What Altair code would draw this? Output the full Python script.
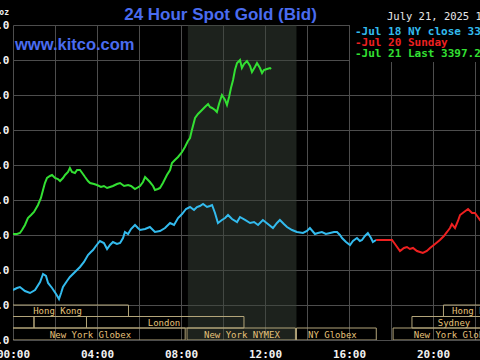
import altair as alt
import pandas as pd

# ---------------- data ----------------
# Jul 18 (previous NY session), hours since 00:00 and bid price
blue_hours = [0.00, 0.19, 0.33, 0.57, 0.81, 1.05, 1.29, 1.43, 1.57, 1.67, 1.86, 2.05, 2.19, 2.29,
              2.38, 2.57, 2.71, 2.95, 3.19, 3.38, 3.57, 3.71, 3.81, 3.95, 4.14, 4.33, 4.48, 4.62,
              4.76, 4.95, 5.10, 5.24, 5.33, 5.48, 5.62, 5.81, 5.95, 6.05, 6.29, 6.52, 6.76, 7.00,
              7.24, 7.48, 7.67, 7.86, 8.05, 8.24, 8.43, 8.62, 8.76, 8.90, 9.05, 9.24, 9.38, 9.48,
              9.62, 9.76, 9.95, 10.10, 10.24, 10.43, 10.67, 10.81, 11.05, 11.29, 11.48, 11.67,
              11.90, 12.14, 12.38, 12.57, 12.71, 12.90, 13.05, 13.29, 13.52, 13.81, 14.00, 14.14,
              14.38, 14.52, 14.71, 14.90, 15.10, 15.29, 15.43, 15.57, 15.67, 15.86, 16.05, 16.19,
              16.38, 16.52, 16.62, 16.76, 16.90, 17.05, 17.14, 17.29]
blue_prices = [3334.29, 3334.86, 3335.14, 3334.00, 3333.43, 3334.29, 3336.57, 3338.86, 3338.29,
               3336.29, 3334.86, 3333.14, 3331.71, 3333.43, 3335.14, 3336.86, 3338.00, 3339.43,
               3340.86, 3342.29, 3344.29, 3345.14, 3345.71, 3346.86, 3348.29, 3347.71, 3346.00,
               3347.14, 3348.00, 3347.43, 3347.71, 3349.14, 3350.86, 3350.29, 3351.71, 3352.86,
               3352.00, 3351.43, 3351.71, 3352.29, 3350.86, 3351.14, 3352.00, 3353.43, 3352.86,
               3354.86, 3356.00, 3357.43, 3358.00, 3357.14, 3358.00, 3358.29, 3358.86, 3358.00,
               3358.29, 3358.57, 3356.29, 3353.43, 3354.29, 3354.86, 3355.71, 3354.57, 3353.71,
               3355.14, 3354.29, 3353.43, 3353.71, 3352.86, 3354.29, 3353.14, 3352.00, 3353.43,
               3354.29, 3353.14, 3352.29, 3351.43, 3350.86, 3350.57, 3351.14, 3352.00, 3350.29,
               3350.57, 3350.86, 3350.29, 3350.57, 3350.86, 3350.86, 3350.00, 3349.14, 3348.00,
               3347.14, 3348.29, 3349.14, 3348.29, 3348.57, 3349.71, 3350.57, 3349.14, 3348.00,
               3348.57]

# Jul 20 (Sunday evening)
red_hours = [17.29, 18.05, 18.19, 18.43, 18.62, 18.76, 18.90, 19.05, 19.24, 19.38, 19.52, 19.71,
             19.86, 20.10, 20.33, 20.52, 20.67, 20.81, 20.90, 21.05, 21.19, 21.29, 21.48, 21.67,
             21.86, 22.00, 22.14, 22.24, 22.43]
red_prices = [3348.57, 3348.57, 3347.43, 3345.43, 3346.29, 3346.57, 3346.00, 3346.29, 3345.43,
              3345.14, 3344.86, 3345.43, 3346.29, 3347.43, 3348.57, 3349.71, 3350.86, 3352.00,
              3353.14, 3352.00, 3354.00, 3355.71, 3356.57, 3357.43, 3356.29, 3356.29, 3355.14,
              3354.29, 3353.14]

# Jul 21 (today)
green_hours = [0.00, 0.19, 0.33, 0.43, 0.57, 0.71, 0.86, 1.00, 1.19, 1.33, 1.43, 1.52, 1.62, 1.76,
               1.86, 2.00, 2.14, 2.24, 2.38, 2.48, 2.62, 2.71, 2.81, 2.95, 3.05, 3.19, 3.33, 3.43,
               3.57, 3.67, 3.86, 4.00, 4.19, 4.33, 4.48, 4.62, 4.76, 4.95, 5.10, 5.29, 5.48, 5.62,
               5.81, 5.90, 6.05, 6.19, 6.29, 6.43, 6.52, 6.67, 6.76, 6.90, 7.00, 7.14, 7.33, 7.48,
               7.57, 7.71, 7.86, 8.05, 8.19, 8.33, 8.43, 8.52, 8.67, 8.81, 9.00, 9.14, 9.29, 9.38,
               9.48, 9.62, 9.71, 9.81, 9.95, 10.10, 10.19, 10.29, 10.38, 10.48, 10.57, 10.67, 10.81,
               10.90, 11.00, 11.14, 11.29, 11.38, 11.52, 11.62, 11.76, 11.86, 11.95, 12.10, 12.24,
               12.29]
green_prices = [3350.29, 3350.29, 3350.57, 3351.43, 3352.86, 3354.86, 3355.71, 3356.57, 3358.57,
                3360.57, 3362.86, 3364.86, 3366.29, 3366.86, 3367.14, 3366.29, 3366.00, 3365.43,
                3366.29, 3367.14, 3368.00, 3369.14, 3368.00, 3367.71, 3368.57, 3368.57, 3367.43,
                3366.57, 3365.43, 3364.86, 3364.57, 3364.29, 3363.71, 3364.00, 3363.43, 3363.71,
                3364.00, 3364.57, 3364.86, 3364.00, 3364.29, 3364.00, 3363.14, 3363.43, 3364.00,
                3365.14, 3366.57, 3365.71, 3365.14, 3364.00, 3362.86, 3363.14, 3363.43, 3364.86,
                3367.14, 3368.57, 3370.57, 3371.43, 3372.29, 3373.71, 3375.14, 3376.86, 3377.71,
                3380.00, 3383.43, 3384.57, 3385.71, 3386.57, 3387.43, 3386.57, 3386.29, 3385.71,
                3385.14, 3387.43, 3390.00, 3388.57, 3387.14, 3389.43, 3392.00, 3394.29, 3397.14,
                3399.14, 3400.00, 3397.71, 3398.86, 3399.71, 3398.29, 3396.57, 3398.00, 3399.14,
                3397.71, 3396.29, 3397.14, 3397.43, 3397.71, 3397.43]

series_names = ["Jul 18", "Jul 20", "Jul 21"]
series_colors = ["#33bbee", "#ee2020", "#33e033"]

price_ticks = [3320, 3330, 3340, 3350, 3360, 3370, 3380, 3390, 3400, 3410]
hour_ticks = [0, 2, 4, 6, 8, 10, 12, 14, 16, 18, 20, 22]
visible_hours = [0, 22.24]

nymex_session = [8.33, 13.5]

market_names = ["Hong Kong", "", "", "London", "New York Globex", "New York NYMEX",
                "NY Globex", "Sydney", "Hong Kong", "New York Globex"]
market_start = [-2.0, -2.0, 1.0, 3.5, -2.0, 8.29, 13.5, 19.0, 20.5, 18.1]
market_end = [5.5, 1.0, 3.5, 11.0, 8.2, 13.45, 17.3, 26.0, 26.0, 26.0]
market_row = [0, 1, 1, 1, 2, 2, 2, 1, 0, 2]
market_label_hour = [2.12, 0, 0, 7.19, 3.69, 10.9, 15.21, 21.0, 22.07, 21.02]

legend_texts = ["-Jul 18 NY close 3350.40", "-Jul 20 Sunday", "-Jul 21 Last 3397.20"]
title_text = "24 Hour Spot Gold (Bid)"
site_text = "www.kitco.com"
date_text = "July 21, 2025 12:16"
unit_text = "USD/oz"

# ---------------- chart ----------------
MONO = "DejaVu Sans Mono"
SANS = "Liberation Sans"
W, H = 467, 315
GRID = "#4d4d4d"
BLUE_TXT = "#4a6cf0"
GOLD = "#e6c27a"
BOX = "#b3a57a"

rows = []
for name, hrs, prs in [(series_names[0], blue_hours, blue_prices),
                       (series_names[1], red_hours, red_prices),
                       (series_names[2], green_hours, green_prices)]:
    for h, p in zip(hrs, prs):
        rows.append({"series": name, "hour": h, "price": p})
lines_df = pd.DataFrame(rows)

xscale = alt.Scale(domain=visible_hours, nice=False, zero=False)
yscale = alt.Scale(domain=[price_ticks[0], price_ticks[-1]], nice=False, zero=False)

xaxis = alt.Axis(values=hour_ticks, grid=True, gridColor=GRID, gridWidth=1, domain=False,
                 ticks=False, tickSize=0, title=None,
                 labelExpr="datum.value % 4 == 0 ? [(datum.value < 10 ? '0' : '') + datum.value + ':00', (datum.value < 10 ? '0' : '') + datum.value + ':00'] : ''",
                 labelFont=MONO, labelFontSize=11, labelFontWeight="bold", labelColor="#f2f2f2",
                 labelPadding=8, labelFlush=False, labelOverlap=False, labelBound=False,
                 labelLineHeight=10)
yaxis = alt.Axis(values=price_ticks, format=".1f", grid=True, gridColor=GRID, gridWidth=1,
                 domain=False, ticks=False, tickSize=0, title=None,
                 labelFont=MONO, labelFontSize=11, labelFontWeight="bold", labelColor="#f2f2f2",
                 labelPadding=4, labelOverlap=False, labelBound=False, labelFlush=False)


def X(field):
    return alt.X(field, type="quantitative", scale=xscale, axis=xaxis)


one = alt.Data(values=[{"k": 1}])

band = alt.Chart(pd.DataFrame({"hour": [nymex_session[0]], "hour_end": [nymex_session[1]]})).mark_rect(
    fill="#3a443a", opacity=0.5
).encode(x=X("hour"), x2="hour_end", y=alt.value(0), y2=alt.value(H))

lines = alt.Chart(lines_df).mark_line(strokeWidth=2, clip=True).encode(
    x=X("hour"),
    y=alt.Y("price:Q", scale=yscale, axis=yaxis),
    color=alt.Color("series:N", scale=alt.Scale(domain=series_names, range=series_colors), legend=None),
    detail="series:N",
)

market_df = pd.DataFrame({"name": market_names, "hour": market_start, "hour_end": market_end,
                          "row": market_row, "label_hour": market_label_hour})
row_pix = [(280, 291.5), (291.5, 303), (303, 315)]
market_layers = []
for r, (top, bot) in enumerate(row_pix):
    market_layers.append(
        alt.Chart(market_df).transform_filter(f"datum.row == {r}").mark_rect(
            filled=False, stroke=BOX, strokeWidth=1, clip=True
        ).encode(x=X("hour"), x2="hour_end", y=alt.value(top), y2=alt.value(bot))
    )
    market_layers.append(
        alt.Chart(market_df).transform_filter(f"datum.row == {r} && datum.name != ''").mark_text(
            font=MONO, fontSize=9, color=GOLD, align="center", baseline="middle"
        ).encode(x=alt.X("label_hour", type="quantitative", scale=xscale, axis=xaxis),
                 y=alt.value((top + bot) / 2 + 0.5), text="name:N")
    )

legend_box = alt.Chart(one).mark_rect(fill="black").encode(
    x=alt.value(337), x2=alt.value(W), y=alt.value(0), y2=alt.value(37))
legend_layers = [legend_box]
for i, (txt, col) in enumerate(zip(legend_texts, series_colors)):
    legend_layers.append(
        alt.Chart(one).mark_text(font=MONO, fontSize=11, fontWeight="bold", color=col,
                                 align="left", baseline="middle").encode(
            x=alt.value(342), y=alt.value(6.5 + 11 * i), text=alt.value(txt))
    )

title = alt.Chart(one).mark_text(font=SANS, fontSize=17, fontWeight="bold", color=BLUE_TXT,
                                 align="center", baseline="alphabetic").encode(
    x=alt.value(207.5), y=alt.value(-5), text=alt.value(title_text))
site = alt.Chart(one).mark_text(font=SANS, fontSize=16.5, fontWeight="bold", color=BLUE_TXT,
                                align="left", baseline="alphabetic").encode(
    x=alt.value(2), y=alt.value(25), text=alt.value(site_text))
date = alt.Chart(one).mark_text(font=MONO, fontSize=10.5, color="#e8e8e8",
                                align="left", baseline="middle").encode(
    x=alt.value(374), y=alt.value(-8), text=alt.value(date_text))
unit = alt.Chart(one).mark_text(font=MONO, fontSize=8, fontWeight="bold", color="#f2f2f2",
                                align="right", baseline="middle").encode(
    x=alt.value(-4), y=alt.value(-12), text=alt.value(unit_text))

chart = alt.layer(band, lines, *market_layers, *legend_layers, title, site, date, unit).properties(
    width=W, height=H,
    autosize=alt.AutoSizeParams(type="none"),
    padding={"left": 13, "top": 25, "right": 0, "bottom": 20},
    background="black",
).configure_view(stroke=None)

chart.save("out.html", embed_options={"renderer": "svg", "actions": False})
